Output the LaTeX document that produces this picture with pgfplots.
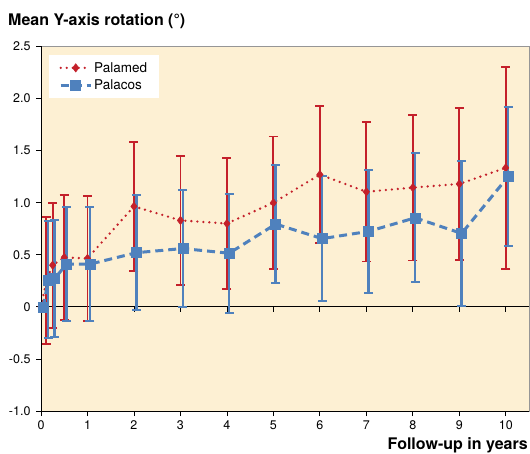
\documentclass[border=0pt]{standalone}
\usepackage{pgfplots}
\pgfplotsset{compat=1.18}
\usepackage{fontspec}
\setmainfont{TeX Gyre Heros}
\definecolor{redc}{RGB}{196,32,42}
\definecolor{bluec}{RGB}{79,129,189}
\definecolor{bgc}{RGB}{253,240,211}
\definecolor{bordc}{RGB}{150,150,150}
\begin{document}
\begin{tikzpicture}
\useasboundingbox (-41pt,-42pt) rectangle (489pt,411pt);
\begin{axis}[
  at={(0,0)}, anchor=south west,
  scale only axis, width=488pt, height=364.5pt,
  xmin=0, xmax=10.5, ymin=-1, ymax=2.5,
  axis background/.style={fill=bgc},
  axis line style={draw=bordc, line width=0.8pt},
  xtick={0,1,...,10},
  ytick={-1,-0.5,0,0.5,1,1.5,2,2.5},
  yticklabels={-1.0,-0.5,0,0.5,1.0,1.5,2.0,2.5},
  xtick pos=bottom, ytick pos=left,
  tick align=outside, major tick length=5pt,
  tick style={black, line width=0.8pt},
  tick label style={font=\fontsize{12.5}{14}\selectfont},
  /pgf/number format/assume math mode=true,
  xticklabel style={yshift=-1pt},
  yticklabel style={xshift=-2pt},
  legend style={at={(axis description cs:0,1)}, anchor=north west,
    xshift=8pt, yshift=-8.5pt, draw=none, fill=white,
    font=\fontsize{13.5}{15}\selectfont, inner xsep=10pt, inner ysep=5pt,
    row sep=2.5pt},
  legend cell align=left,
  legend image code/.code={\draw[mark repeat=2,mark phase=2,#1] plot coordinates {(0pt,0pt)(15pt,0pt)(30pt,0pt)};},
]
\draw[black, line width=0.8pt] (axis cs:0,0) -- (axis cs:10.5,0);
\pgfplotsinvokeforeach{1,2,3,4,5,6,7,8,9,10}{\draw[black, line width=0.8pt] (axis cs:#1,0) -- ([yshift=-5pt]axis cs:#1,0);}

\addplot[color=redc, line width=2.6pt, dash pattern=on 0pt off 6pt, line cap=round,
  mark=diamond*, mark size=4.2pt, mark options={solid, fill=redc, line width=0.5pt},
  error bars/.cd, y dir=both, y explicit,
  error bar style={solid, line width=1.8pt, redc, line cap=butt},
  error mark options={rotate=90, mark size=4.5pt, line width=1.8pt, redc}]
coordinates {
(0,0) +- (0,0)
(0.115,0.25) +- (0,0.61)
(0.25,0.40) +- (0,0.60)
(0.5,0.475) +- (0,0.60)
(1,0.465) +- (0,0.60)
(2,0.965) +- (0,0.62)
(3,0.83) +- (0,0.62)
(4,0.80) +- (0,0.63)
(5,1.00) +- (0,0.635)
(6,1.27) +- (0,0.66)
(7,1.105) +- (0,0.67)
(8,1.145) +- (0,0.70)
(9,1.18) +- (0,0.73)
(10,1.335) +- (0,0.97)
};
\addlegendentry{Palamed}

\addplot[color=bluec, line width=3pt, dash pattern=on 8pt off 5pt,
  mark=square*, mark size=5pt, mark options={solid, fill=bluec, line width=0.5pt},
  error bars/.cd, y dir=both, y explicit,
  error bar style={solid, line width=2.5pt, bluec, line cap=butt},
  error mark options={rotate=90, mark size=4.5pt, line width=2pt, bluec}]
coordinates {
(0.05,0) +- (0,0)
(0.155,0.26) +- (0,0.56)
(0.29,0.27) +- (0,0.56)
(0.55,0.41) +- (0,0.55)
(1.05,0.41) +- (0,0.55)
(2.05,0.52) +- (0,0.55)
(3.05,0.56) +- (0,0.56)
(4.05,0.515) +- (0,0.57)
(5.05,0.795) +- (0,0.57)
(6.05,0.655) +- (0,0.60)
(7.05,0.725) +- (0,0.59)
(8.05,0.855) +- (0,0.62)
(9.05,0.705) +- (0,0.70)
(10.05,1.25) +- (0,0.665)
};
\addlegendentry{Palacos}

\draw[black, line width=1pt] (rel axis cs:0,1) -- (rel axis cs:0,0) -- (rel axis cs:1,0);
\end{axis}
\node[anchor=base west, font=\fontsize{16}{18}\selectfont\bfseries, inner sep=0pt] at (-33pt,385.5pt) {Mean Y-axis rotation (°)};
\node[anchor=base east, font=\fontsize{16}{18}\selectfont\bfseries, inner sep=0pt] at (487pt,-38pt) {Follow-up in years};
\end{tikzpicture}
\end{document}
